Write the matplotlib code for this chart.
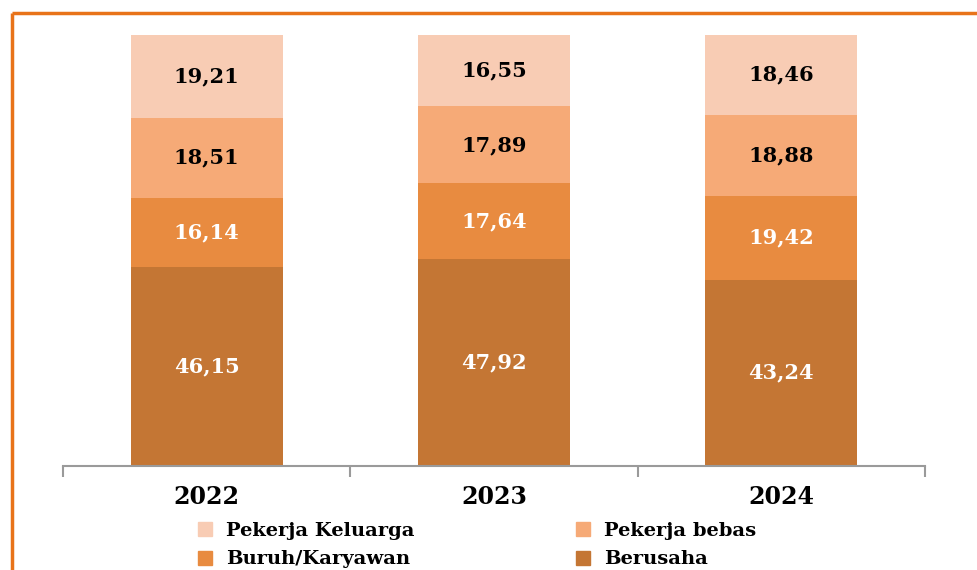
import numpy as np
import matplotlib.pyplot as plt
from matplotlib.lines import Line2D
from matplotlib.patches import Patch

# data
years = ['2022', '2023', '2024']
berusaha = [46.15, 47.92, 43.24]
buruh = [16.14, 17.64, 19.42]
bebas = [18.51, 17.89, 18.88]
keluarga = [19.21, 16.55, 18.46]

series = [
    ('Berusaha', berusaha, '#C47634', 'white'),
    ('Buruh/Karyawan', buruh, '#E88B40', 'white'),
    ('Pekerja bebas', bebas, '#F6AA77', 'black'),
    ('Pekerja Keluarga', keluarga, '#F8CCB4', 'black'),
]

plt.rcParams['font.family'] = ['DejaVu Serif']
plt.rcParams['font.weight'] = 'bold'

fig = plt.figure(figsize=(9.78, 5.70), dpi=100)
ax = fig.add_axes([63 / 978, 104 / 570, 862 / 978, 431 / 570])

x = np.arange(len(years))
bottom = np.zeros(len(years))
for name, vals, col, tcol in series:
    vals = np.array(vals)
    ax.bar(x, vals, width=0.53, bottom=bottom, color=col, label=name, zorder=2)
    for xi, b, v in zip(x, bottom, vals):
        ax.text(xi, b + v / 2, f'{v:.2f}'.replace('.', ','), ha='center', va='center',
                fontsize=15, fontweight='bold', color=tcol)
    bottom += vals

ax.set_xlim(-0.5, 2.5)
ax.set_ylim(0, 100)
for s in ['top', 'right', 'left']:
    ax.spines[s].set_visible(False)
ax.spines['bottom'].set_color('#9A9A9A')
ax.spines['bottom'].set_linewidth(1.5)
ax.set_yticks([])
ax.set_xticks([-0.5, 0.5, 1.5, 2.5], minor=False)
ax.set_xticklabels([])
ax.tick_params(axis='x', which='major', length=8, width=1.5, color='#9A9A9A')
ax.set_xticks(x, minor=True)
ax.set_xticklabels(years, minor=True, fontsize=17, fontweight='bold')
ax.tick_params(axis='x', which='minor', length=0, pad=14)

# legend, filled by column: Keluarga, Buruh | bebas, Berusaha
handles = [Patch(color=c) for _, _, c, _ in series]
labels = [n for n, _, _, _ in series]
order = [3, 1, 2, 0]
fig.legend([handles[i] for i in order], [labels[i] for i in order], ncol=2,
           loc='upper left', bbox_to_anchor=(190 / 978, 1 - 514 / 570), frameon=False,
           fontsize=14, handlelength=0.75, handleheight=0.75, handletextpad=0.7,
           columnspacing=8.3, labelspacing=0.55, borderaxespad=0)

# orange frame (top and left)
fig.add_artist(Line2D([12 / 978, 1], [1 - 13 / 570, 1 - 13 / 570], color='#E8731A', lw=2.5,
                      transform=fig.transFigure, solid_capstyle='butt'))
fig.add_artist(Line2D([12 / 978, 12 / 978], [0, 1 - 13 / 570], color='#E8731A', lw=2.5,
                      transform=fig.transFigure, solid_capstyle='butt'))

plt.savefig('out.png', dpi=100)
